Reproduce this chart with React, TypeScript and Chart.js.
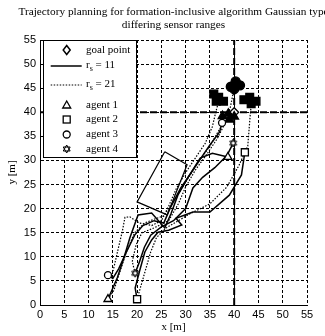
import React, { useEffect, useRef } from 'react';
import { Chart, registerables } from 'chart.js';

Chart.register(...registerables);

type P = [number, number];

// ---------- text ----------
const titleLines = [
  'Trajectory planning for formation-inclusive algorithm Gaussian type',
  'differing sensor ranges',
];
const xTitle = 'x [m]';
const yTitle = 'y [m]';
const axisMin = 0;
const axisMax = 55;
const tickStep = 5;

// ---------- goal cross-hair ----------
const goalVertical: P[] = [[40, 0], [40, 55]];
const goalHorizontal: P[] = [[0, 40], [55, 40]];
const goalPoint: P[] = [[40, 40]];

// ---------- obstacle ----------
const obstacle: P[] = [[25.7, 31.8], [30.3, 29.1], [26.2, 18.7], [20.0, 21.4], [25.7, 31.8]];

// ---------- trajectories, r_s = 11 (solid) ----------
const solidAgent1: P[] = [[14, 1.2], [15.9, 5.6], [17.2, 9.5], [18.5, 13.9], [20.2, 18.7], [23, 19.1], [25.7, 16], [27, 19], [28.4, 22.8], [30.5, 26.5], [33, 30.5], [35.5, 31.5], [38.7, 30.7]];
const solidAgent2: P[] = [[20, 1.2], [19.6, 3.5], [20.5, 7], [21.6, 11], [23, 13.5], [24.3, 15.1], [26.5, 15.5], [29.2, 16.6], [28, 18], [31.5, 19.3], [35, 19.3], [39, 22.8], [41.5, 27], [42.2, 31.7]];
const solidAgent3: P[] = [[14, 6.2], [15, 5.5], [16.2, 7.5], [17.8, 11], [19.5, 14.5], [21.2, 16.5], [23.5, 17.5], [25.5, 17], [26.8, 20.1], [29, 24.3], [31.5, 28], [33.5, 31], [35, 33.2], [37, 35.9], [37.5, 37.8]];
const solidAgent4: P[] = [[19.6, 6.6], [20.5, 9], [21.5, 12], [22.8, 14.5], [25, 16.2], [27.5, 17.5], [30, 20], [31.5, 24.3], [33.5, 26.5], [36, 28.5], [38.5, 31], [39.8, 33.6]];

// ---------- trajectories, r_s = 21 (dotted) ----------
const dottedAgent1: P[] = [[14, 1.2], [15.2, 3], [16.5, 7], [17.8, 11], [19.5, 15], [21.5, 17], [23.5, 17.8], [25.5, 18.5], [27.5, 21.5], [30, 25.5], [32.5, 29.5], [35, 33], [37, 36.5], [38.2, 38.5], [38.9, 39.2]];
const dottedAgent2: P[] = [[20, 1.2], [20.8, 4], [21.8, 7.5], [22.8, 11], [24, 14], [26, 16], [28.5, 17.5], [31, 19], [35, 21], [38.5, 24.5], [41, 29], [42.8, 33], [43.3, 39.4], [43.6, 42.5]];
const dottedAgent3: P[] = [[14, 6.2], [14.8, 6], [15.5, 9], [16.3, 12.5], [17, 15.5], [17.5, 18.2], [18.5, 18.3], [20.5, 17], [23, 16.5], [25, 17.5], [26.5, 20.5], [28, 24], [30, 27.5], [32, 30.5], [34, 33.5], [35.5, 37], [36.2, 40], [37, 43]];
const dottedAgent4: P[] = [[19.6, 6.6], [19, 9], [19.8, 12.5], [21, 15], [23.5, 16], [26.5, 17.5], [28.5, 21], [30, 24.5], [32, 28], [34.5, 31.5], [36.5, 34.5], [38, 37.5], [39.2, 41], [39.8, 44], [40.2, 45.7]];

// ---------- agent markers (open): starts and r_s = 11 end positions ----------
const agent1Marks: P[] = [[14, 1.2], [38.7, 30.7]];
const agent2Marks: P[] = [[20, 1.2], [42.2, 31.7]];
const agent3Marks: P[] = [[14, 6.2], [37.5, 37.8]];
const agent4Marks: P[] = [[19.6, 6.6], [39.8, 33.6]];

// ---------- r_s = 21 final formation (filled, overlapping) ----------
const agent1Final: P[] = [[37.6, 39.2], [38.8, 39.7], [40, 39.1], [39, 38.5]];
const agent2Final: P[] = [[42, 42.6], [43.2, 43.1], [44.5, 42.3], [43.5, 41.8]];
const agent3Final: P[] = [[39.3, 45.3], [40.3, 46.4], [41.2, 45.6], [40, 44.8]];
const agent4Final: P[] = [[35.8, 43.8], [36.8, 43.1], [37.8, 42.3], [36.3, 42.3]];

const legendLabels = ['goal point', 'r_s = 11', 'r_s = 21', 'agent 1', 'agent 2', 'agent 3', 'agent 4'];

const SERIF = "'Liberation Serif', 'Times New Roman', serif";
const SANS = "'Liberation Sans', Arial, sans-serif";

function hexagramCanvas(r: number, fill: string): HTMLCanvasElement {
  const s = Math.ceil(r * 2 + 4);
  const c = document.createElement('canvas');
  c.width = s;
  c.height = s;
  const ctx = c.getContext('2d')!;
  ctx.translate(s / 2, s / 2);
  drawHexagram(ctx, 0, 0, r, fill);
  return c;
}

function drawHexagram(ctx: CanvasRenderingContext2D, cx: number, cy: number, r: number, fill: string) {
  const tri = (rot: number) => {
    ctx.beginPath();
    for (let k = 0; k < 3; k++) {
      const a = rot + (k * 2 * Math.PI) / 3;
      const x = cx + r * Math.cos(a);
      const y = cy + r * Math.sin(a);
      if (k === 0) ctx.moveTo(x, y);
      else ctx.lineTo(x, y);
    }
    ctx.closePath();
  };
  ctx.save();
  ctx.fillStyle = fill;
  ctx.strokeStyle = '#000';
  ctx.lineWidth = 1;
  ctx.setLineDash([]);
  tri(-Math.PI / 2);
  ctx.fill();
  tri(Math.PI / 2);
  ctx.fill();
  tri(-Math.PI / 2);
  ctx.stroke();
  tri(Math.PI / 2);
  ctx.stroke();
  ctx.restore();
}

const toXY = (arr: P[]) => arr.map(([x, y]) => ({ x, y }));

const titlePlugin = {
  id: 'centeredTitle',
  afterDraw(chart: any) {
    const { ctx, chartArea } = chart;
    const cx = (chartArea.left + chartArea.right) / 2;
    ctx.save();
    ctx.fillStyle = '#000';
    ctx.font = `11.3px ${SERIF}`;
    ctx.textAlign = 'center';
    ctx.textBaseline = 'middle';
    ctx.fillText(titleLines[0], cx, 12);
    ctx.fillText(titleLines[1], cx, 25);
    ctx.restore();
  },
};

const boxLegendPlugin = {
  id: 'boxLegend',
  afterDraw(chart: any) {
    const { ctx, chartArea } = chart;
    const x0 = chartArea.left + 3.5;
    const y0 = chartArea.top + 0.5;
    const w = 93;
    const h = 117;
    ctx.save();
    ctx.setLineDash([]);
    ctx.fillStyle = '#fff';
    ctx.fillRect(x0, y0, w, h);
    ctx.strokeStyle = '#000';
    ctx.lineWidth = 1;
    ctx.strokeRect(x0, y0, w, h);

    const rowY = [10, 26, 45, 65, 79.5, 94.5, 109].map((d) => chartArea.top + d);
    const mx = chartArea.left + 26.7;
    const tx = chartArea.left + 46;
    ctx.fillStyle = '#000';
    ctx.textBaseline = 'middle';
    ctx.textAlign = 'left';

    legendLabels.forEach((label, i) => {
      const y = rowY[i];
      ctx.strokeStyle = '#000';
      ctx.lineWidth = 1;
      ctx.setLineDash([]);
      if (i === 0) {
        ctx.beginPath();
        ctx.moveTo(mx, y - 4.5);
        ctx.lineTo(mx + 3.5, y);
        ctx.lineTo(mx, y + 4.5);
        ctx.lineTo(mx - 3.5, y);
        ctx.closePath();
        ctx.lineWidth = 1.5;
        ctx.stroke();
      } else if (i === 1 || i === 2) {
        ctx.beginPath();
        ctx.lineWidth = i === 1 ? 1.5 : 1.2;
        ctx.setLineDash(i === 1 ? [] : [1.5, 1.5]);
        ctx.moveTo(chartArea.left + 10.7, y);
        ctx.lineTo(chartArea.left + 41.7, y);
        ctx.stroke();
        ctx.setLineDash([]);
      } else if (i === 3) {
        ctx.beginPath();
        ctx.moveTo(mx, y - 4);
        ctx.lineTo(mx + 4, y + 3);
        ctx.lineTo(mx - 4, y + 3);
        ctx.closePath();
        ctx.lineWidth = 1.3;
        ctx.stroke();
      } else if (i === 4) {
        ctx.lineWidth = 1.3;
        ctx.strokeRect(mx - 3.5, y - 3.5, 7, 7);
      } else if (i === 5) {
        ctx.beginPath();
        ctx.lineWidth = 1.3;
        ctx.arc(mx, y, 3.5, 0, Math.PI * 2);
        ctx.stroke();
      } else {
        drawHexagram(ctx, mx, y, 4, '#fff');
      }
      ctx.fillStyle = '#000';
      if (label.startsWith('r_s')) {
        ctx.font = `11px ${SERIF}`;
        ctx.fillText('r', tx, y - 1);
        const rw = ctx.measureText('r').width;
        ctx.font = `8px ${SERIF}`;
        ctx.fillText('s', tx + rw, y + 3);
        const sw = ctx.measureText('s').width;
        ctx.font = `11px ${SERIF}`;
        ctx.fillText(label.slice(3), tx + rw + sw, y - 1);
      } else {
        ctx.font = `11px ${SERIF}`;
        ctx.fillText(label, tx, y);
      }
    });
    ctx.restore();
  },
};

export default function App() {
  const ref = useRef<HTMLCanvasElement | null>(null);

  useEffect(() => {
    if (!ref.current) return;
    const hexOpen = hexagramCanvas(4, '#fff');

    const pathSet = (data: P[], dotted: boolean) => ({
      data: toXY(data),
      showLine: true,
      borderColor: '#000',
      borderWidth: dotted ? 1.2 : 1.5,
      borderDash: dotted ? [1.5, 1.5] : [],
      pointRadius: 0,
      tension: 0,
      fill: false,
      order: 3,
    });

    const markSet = (data: P[], style: any, radius: number, filled: boolean, order: number) => ({
      data: toXY(data),
      showLine: false,
      pointStyle: style,
      pointRadius: radius,
      pointBackgroundColor: filled ? '#000' : '#fff',
      pointBorderColor: '#000',
      pointBorderWidth: 1.3,
      order,
    });

    const chart = new Chart(ref.current, {
      type: 'scatter',
      data: {
        datasets: [
          {
            data: toXY(goalVertical),
            showLine: true,
            borderColor: '#000',
            borderWidth: 2,
            borderDash: [7, 3],
            pointRadius: 0,
            order: 6,
          },
          {
            data: toXY(goalHorizontal),
            showLine: true,
            borderColor: '#000',
            borderWidth: 2,
            borderDash: [7, 3],
            pointRadius: 0,
            order: 6,
          },
          {
            data: toXY(obstacle),
            showLine: true,
            borderColor: '#000',
            borderWidth: 1.2,
            pointRadius: 0,
            order: 5,
          },
          pathSet(solidAgent1, false),
          pathSet(solidAgent2, false),
          pathSet(solidAgent3, false),
          pathSet(solidAgent4, false),
          pathSet(dottedAgent1, true),
          pathSet(dottedAgent2, true),
          pathSet(dottedAgent3, true),
          pathSet(dottedAgent4, true),
          markSet(goalPoint, 'rectRot', 4.5, false, 2),
          markSet(agent1Final, 'triangle', 5, true, 1),
          markSet(agent2Final, 'rect', 5.5, true, 1),
          markSet(agent3Final, 'circle', 4.5, true, 1),
          markSet(agent4Final, 'rect', 5.5, true, 1),
          markSet(agent1Marks, 'triangle', 4.6, false, 0),
          markSet(agent2Marks, 'rect', 5, false, 0),
          markSet(agent3Marks, 'circle', 3.5, false, 0),
          markSet(agent4Marks, hexOpen, 4, false, 0),
        ] as any,
      },
      options: {
        animation: false,
        responsive: true,
        maintainAspectRatio: false,
        layout: { padding: { top: 40, right: 18, left: 0, bottom: 0 } },
        plugins: {
          legend: { display: false },
          tooltip: { enabled: false },
          title: { display: false },
        },
        scales: {
          x: {
            type: 'linear',
            min: axisMin,
            max: axisMax,
            ticks: {
              stepSize: tickStep,
              color: '#000',
              font: { family: SANS, size: 11 },
              padding: 3,
              maxRotation: 0,
              autoSkip: false,
            },
            grid: { color: '#000', lineWidth: 1, drawTicks: false, tickLength: 0 },
            border: { display: true, color: '#000', width: 1, dash: [3, 2] },
            title: {
              display: true,
              text: xTitle,
              color: '#000',
              font: { family: SERIF, size: 11 },
              padding: { top: 0, bottom: 2 },
            },
            afterFit: (s: any) => {
              s.height = 31;
            },
          },
          y: {
            type: 'linear',
            min: axisMin,
            max: axisMax,
            ticks: {
              stepSize: tickStep,
              color: '#000',
              font: { family: SANS, size: 11 },
              padding: 4,
              autoSkip: false,
            },
            grid: { color: '#000', lineWidth: 1, drawTicks: false, tickLength: 0 },
            border: { display: true, color: '#000', width: 1, dash: [3, 2] },
            title: {
              display: true,
              text: yTitle,
              color: '#000',
              font: { family: SERIF, size: 11 },
              padding: { top: 6, bottom: 0 },
            },
            afterFit: (s: any) => {
              s.width = 40;
            },
          },
        },
      } as any,
      plugins: [titlePlugin, boxLegendPlugin],
    });
    return () => chart.destroy();
  }, []);

  return (
    <div style={{ position: 'absolute', left: 0, top: 0, width: 325, height: 336, background: '#fff' }}>
      <canvas ref={ref} />
    </div>
  );
}
